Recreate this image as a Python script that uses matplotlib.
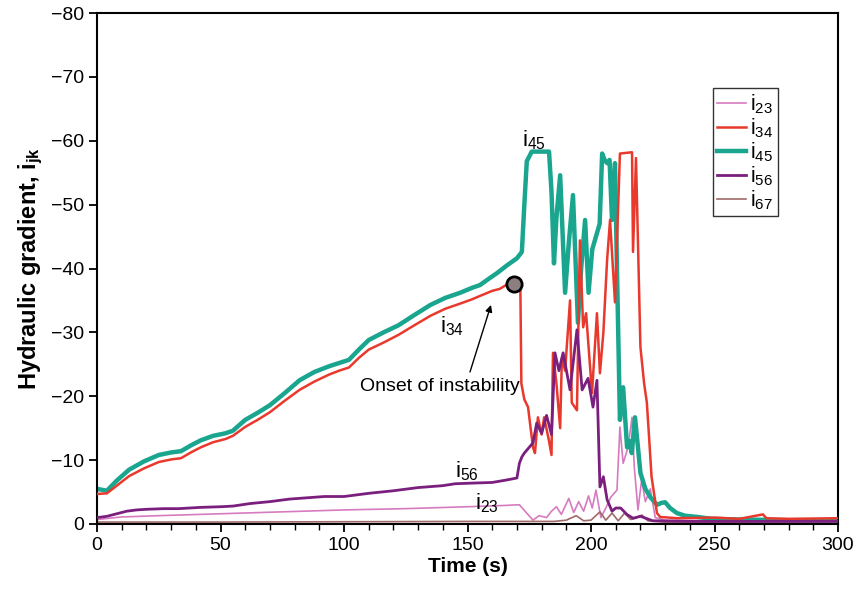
import matplotlib
matplotlib.use("Agg")
import matplotlib.pyplot as plt
from matplotlib.ticker import MultipleLocator

plt.rcParams['font.family'] = ['Liberation Sans', 'DejaVu Sans']

# i45 (teal)
t45 = [0, 4, 8, 13, 19, 25, 30, 34, 38, 42, 47, 52, 55, 60, 65, 70, 76, 82, 88, 94, 98, 102,
       106, 110, 116, 122, 128, 135, 141, 147, 152, 155, 159, 162, 166, 170, 172, 173, 174, 176,
       183, 184, 185, 186, 187.5, 189.5, 191, 192.7, 194.7, 196, 197.6, 199, 200.5, 202, 203.5,
       204.5, 205.5, 206.5, 207.5, 208.5, 209.7, 210.5, 211.7, 213, 214.6, 215.5, 216.5, 217.8,
       219, 220, 222, 224, 226.7, 228.5, 230, 232, 234.8, 238, 243, 249, 260, 280, 300]
y45 = [-5.5, -5.2, -6.8, -8.5, -9.8, -10.8, -11.2, -11.4, -12.3, -13.1, -13.8, -14.2, -14.6,
       -16.3, -17.4, -18.6, -20.5, -22.5, -23.8, -24.7, -25.2, -25.7, -27.3, -28.8, -30, -31.1,
       -32.6, -34.3, -35.4, -36.2, -37, -37.4, -38.5, -39.3, -40.5, -41.6, -42.6, -50, -56.8,
       -58.3, -58.3, -52, -40.8, -48, -54.6, -36.2, -44, -51.5, -31.5, -40, -47.6, -36.2, -43,
       -45, -47, -58, -57, -56.5, -57, -47.6, -56.5, -40, -16.3, -21.4, -12, -13, -11.1, -16.7,
       -12, -8, -5.5, -4.2, -3, -3.3, -3.4, -2.5, -1.7, -1.3, -1.1, -0.8, -0.7, -0.6, -0.6]

# i34 (red)
t34 = [0, 4, 8, 13, 19, 25, 30, 34, 38, 42, 47, 52, 55, 60, 65, 70, 76, 82, 88, 94, 98, 102,
       106, 110, 116, 122, 128, 135, 141, 147, 152, 155, 160, 163, 166, 168.8, 170.5, 171.4,
       171.8, 173, 174.5, 176.5, 177.3, 178.5, 180, 181, 183, 184, 184.6, 186, 187.5, 188.2,
       189.5, 191.5, 192.2, 194.3, 195.5, 196.8, 198, 200.4, 202.4, 203.6, 205, 206.5, 207.7,
       209.7, 211.7, 216.6, 217, 218.2, 220, 221.5, 222.6, 223.5, 224.5, 226.7, 228, 235, 250,
       260, 269.6, 271, 280, 300]
y34 = [-4.7, -4.8, -6, -7.5, -8.7, -9.7, -10.1, -10.3, -11.2, -12, -12.8, -13.3, -13.8, -15.2,
       -16.3, -17.5, -19.3, -21, -22.3, -23.4, -24, -24.5, -26, -27.3, -28.4, -29.6, -31, -32.6,
       -33.7, -34.5, -35.2, -35.7, -36.5, -36.8, -37.5, -37.6, -37.5, -36.6, -22, -19.5,
       -18.3, -12, -11.1, -16.7, -14, -16.7, -13, -10.8, -26.8, -22, -15, -26, -24, -35, -19,
       -17.8, -44.4, -30.8, -33, -20.5, -33, -23.6, -30, -41.3, -47.6, -34.7, -58, -58.2,
       -42.6, -57.3, -27.7, -22, -19, -13.6, -7.4, -1.7, -1.1, -0.9, -1, -0.8, -1.5, -0.9,
       -0.8, -0.9]

# i56 (purple)
t56 = [0, 4, 8, 12, 16, 20, 27, 33, 42, 50, 55, 62, 70, 78, 85, 92, 100, 110, 120, 130, 140,
       145, 152, 160, 166, 170, 171, 172, 173, 176.5, 178, 180, 182, 184, 185.4, 187, 188.7,
       191.5, 194.3, 196.4, 198.8, 200.8, 202.4, 203.6, 205, 206.5, 208.5, 210, 212, 214.5,
       217, 220, 225, 240, 270, 300]
y56 = [-1, -1.2, -1.6, -2, -2.2, -2.3, -2.4, -2.4, -2.6, -2.7, -2.8, -3.2, -3.5, -3.9, -4.1,
       -4.3, -4.3, -4.8, -5.2, -5.7, -6, -6.3, -6.4, -6.5, -6.9, -7.2, -9.5, -10.5, -11.1,
       -12.7, -15.8, -14.2, -17, -14, -26.8, -24, -26.8, -21, -30.4, -21, -22.8, -18.3,
       -22.5, -5.8, -7.4, -3.8, -2, -2.5, -2.5, -1.5, -0.9, -1.2, -0.5, -0.4, -0.4, -0.4]

# i23 (pink)
t23 = [0, 10, 25, 50, 75, 100, 125, 150, 165, 170, 171, 176.5, 179, 182, 184, 186, 188, 191,
       193, 195, 197, 199, 200.5, 202, 204, 206, 208, 210.5, 211.7, 213, 215, 216.6, 217.5,
       219, 220.5, 222, 224, 226, 230, 250, 270, 300]
y23 = [-0.7, -1.1, -1.3, -1.6, -1.9, -2.2, -2.4, -2.7, -2.9, -3, -3, -0.6, -1.3, -1, -2, -2.7,
       -1.5, -4, -1.8, -3.5, -2, -4.4, -2.5, -5.3, -1, -2.5, -4.2, -5.3, -15.2, -9.5, -12,
       -16.7, -9, -2.2, -6.9, -3.5, -5.5, -1, -0.6, -0.5, -0.7, -0.8]

# i67 (brown)
t67 = [0, 50, 100, 150, 185, 190, 194, 197, 200, 203.6, 206, 208.5, 211, 213.6, 216, 218,
       220.6, 223, 230, 260, 300]
y67 = [-0.3, -0.3, -0.35, -0.4, -0.4, -0.6, -1.3, -0.5, -0.6, -1.9, -0.6, -1.7, -0.5, -1.7,
       -0.7, -0.9, -1.4, -0.5, -0.3, -0.3, -0.4]

onset_t, onset_y = 168.8, -37.6

fig = plt.figure(figsize=(8.54, 5.92), dpi=100)
ax = fig.add_axes([0.1136, 0.1149, 0.8677, 0.8631])

ax.plot(t23, y23, color='#d67bbf', lw=1.2, label=r'$\mathregular{i_{23}}$', zorder=2)
ax.plot(t34, y34, color='#e8392c', lw=1.8, label=r'$\mathregular{i_{34}}$', zorder=3)
ax.plot(t45, y45, color='#1aa58f', lw=3.2, label=r'$\mathregular{i_{45}}$', zorder=2)
ax.plot(t56, y56, color='#7b1f7e', lw=2.0, label=r'$\mathregular{i_{56}}$', zorder=3)
ax.plot(t67, y67, color='#a06a6a', lw=1.2, label=r'$\mathregular{i_{67}}$', zorder=2)

ax.plot([onset_t], [onset_y], 'o', ms=11, mfc='#8c7f7f', mec='black', mew=2, zorder=5)

ax.set_xlim(0, 300)
ax.set_ylim(0, -80)
ax.xaxis.set_major_locator(MultipleLocator(50))
ax.xaxis.set_minor_locator(MultipleLocator(10))
ax.yaxis.set_major_locator(MultipleLocator(10))
ax.tick_params(axis='both', which='major', direction='out', length=6, width=1.3, labelsize=14)
ax.tick_params(axis='both', which='minor', direction='out', length=4, width=1.0)
for s in ax.spines.values():
    s.set_linewidth(1.5)

ax.set_xlabel('Time (s)', fontsize=15, fontweight='bold', labelpad=2)
ax.set_ylabel(r'Hydraulic gradient, $\mathregular{i_{jk}}$', fontsize=17, fontweight='bold',
              labelpad=4)

ax.text(172, -58.2, r'$\mathregular{i_{45}}$', fontsize=16, ha='left', va='bottom')
ax.text(139, -32.8, r'$\mathregular{i_{34}}$', fontsize=16, ha='left', va='top')
ax.text(145, -6.4, r'$\mathregular{i_{56}}$', fontsize=16, ha='left', va='bottom')
ax.text(153, -1.4, r'$\mathregular{i_{23}}$', fontsize=16, ha='left', va='bottom')
ax.text(139, -21.5, 'Onset of instability', fontsize=14, ha='center', va='center')
ax.annotate('', xy=(159.5, -34.3), xytext=(151, -23.8),
            arrowprops=dict(arrowstyle='-|>', color='black', lw=1, shrinkA=0, shrinkB=0,
                            mutation_scale=10))

leg = ax.legend(loc='upper right', bbox_to_anchor=(0.919, 0.853), borderaxespad=0,
                fontsize=15.5, frameon=True, fancybox=False, edgecolor='black',
                handlelength=1.35, handletextpad=0.2, labelspacing=0.02, borderpad=0.2)
leg.get_frame().set_linewidth(1.0)

fig.savefig('out.png', dpi=100)
